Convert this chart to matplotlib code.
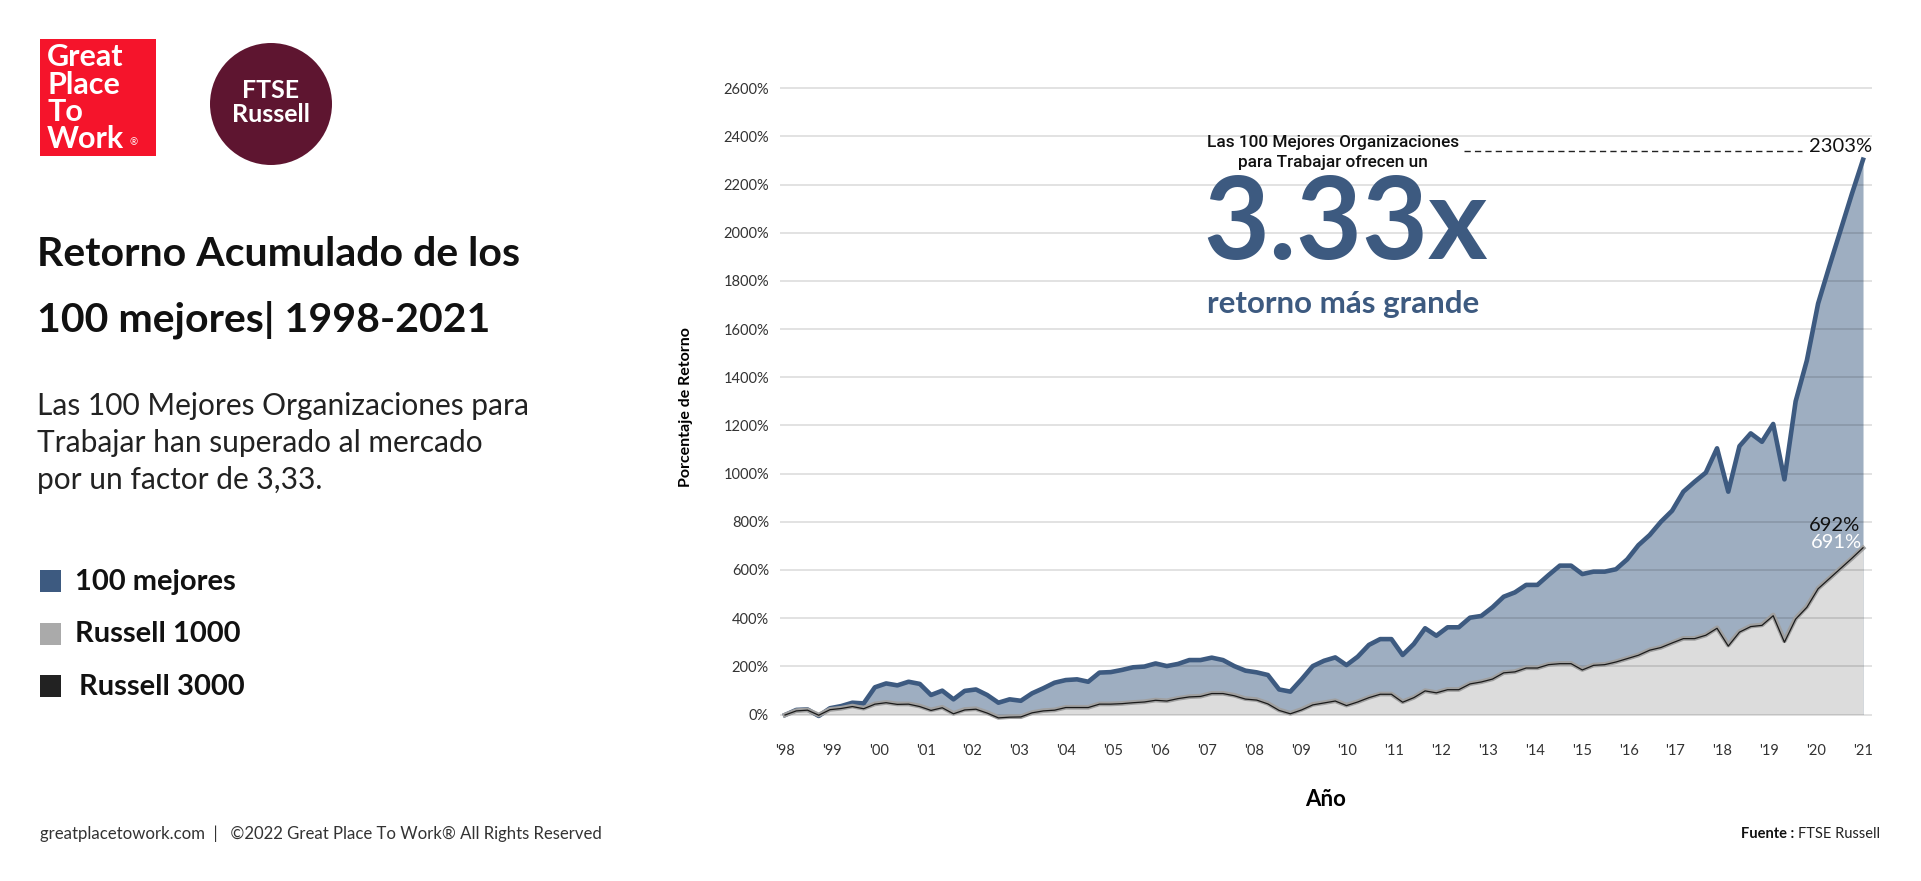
import numpy as np
import matplotlib
matplotlib.use('Agg')
import matplotlib.pyplot as plt
from matplotlib.patches import Rectangle, Ellipse

plt.rcParams['font.family'] = ['Lato', 'DejaVu Sans']

# tick labels (one per year)
years = ["'98", "'99", "'00", "'01", "'02", "'03", "'04", "'05", "'06", "'07", "'08", "'09",
         "'10", "'11", "'12", "'13", "'14", "'15", "'16", "'17", "'18", "'19", "'20", "'21"]

# cumulative return, %, quarterly
mejores = [-2, 19, 21, -6, 26, 35, 49, 46, 113, 129, 121, 136, 127, 81, 99, 63, 98, 104, 81, 49,
           63, 57, 88, 109, 132, 143, 146, 136, 174, 176, 185, 196, 199, 212, 201, 210, 226, 226, 236, 226,
           201, 182, 175, 164, 104, 95, 146, 201, 223, 237, 205, 240, 289, 313, 313, 247, 293, 358, 327, 362,
           362, 402, 409, 445, 489, 507, 538, 538, 579, 618, 618, 583, 593, 593, 603, 644, 703, 745, 800, 846,
           925, 966, 1004, 1105, 925, 1114, 1167, 1132, 1206, 976, 1300, 1470, 1706, 1860, 2010, 2160, 2303]
russell_1000 = [-2, 16, 19, -2, 21, 26, 35, 26, 44, 50, 44, 44, 35, 19, 30, 5, 21, 24, 8, -12,
                -9, -9, 8, 16, 19, 30, 30, 30, 44, 44, 46, 50, 53, 60, 57, 67, 74, 76, 88, 88,
                80, 66, 62, 46, 19, 5, 21, 42, 49, 57, 39, 53, 71, 85, 85, 53, 71, 99, 91, 104,
                104, 128, 136, 148, 174, 178, 194, 194, 208, 212, 212, 187, 205, 208, 219, 233, 247, 268, 279, 298,
                316, 316, 330, 360, 288, 344, 367, 372, 413, 306, 399, 448, 524, 565, 607, 648, 691]
russell_3000 = [-2, 15, 18, -3, 20, 25, 33, 24, 43, 49, 42, 43, 33, 17, 28, 3, 19, 22, 6, -14,
                -11, -10, 7, 15, 18, 29, 29, 29, 43, 43, 45, 49, 52, 59, 56, 66, 73, 75, 87, 87,
                78, 64, 60, 44, 17, 3, 19, 40, 48, 56, 37, 52, 70, 84, 84, 51, 70, 98, 90, 103,
                103, 127, 135, 147, 173, 177, 193, 193, 207, 211, 211, 185, 204, 207, 218, 232, 246, 267, 278, 297,
                315, 315, 329, 358, 284, 342, 365, 370, 410, 300, 396, 445, 522, 564, 606, 648, 692]

BLUE = '#3d5a80'
W, H = 1921, 881
fig = plt.figure(figsize=(W / 100, H / 100), dpi=100)


def fx(px):
    return px / W


def fy(py):
    return 1 - py / H


# ---- chart
ax = fig.add_axes([fx(780), fy(738.6), 1092 / W, 662.5 / H])
x = np.arange(len(mejores))
ax.fill_between(x, 0, mejores, color='#9eaec1', lw=0, zorder=1)
ax.fill_between(x, 0, russell_1000, color='#dcdcdc', lw=0, zorder=1.5)
ax.plot(x, mejores, color=BLUE, lw=3.3, zorder=3)
ax.plot(x, russell_1000, color='#a0a0a0', lw=3.4, zorder=3.1)
ax.plot(x, russell_3000, color='#1a1a1a', lw=0.9, zorder=3.2)

ax.set_xlim(-0.45, len(mejores) - 1 + 0.8)
ax.set_ylim(-100, 2650)
ax.set_yticks(range(0, 2601, 200))
ax.set_yticklabels([f'{v}%' for v in range(0, 2601, 200)])
ax.set_xticks(np.linspace(0, len(mejores) - 1, len(years)))
ax.set_xticklabels(years)
ax.set_axisbelow(False)
ax.yaxis.grid(True, color='black', alpha=0.15, lw=1.1)
for s in ax.spines.values():
    s.set_visible(False)
ax.tick_params(axis='both', length=0, labelsize=10.5, labelcolor='#333333')
ax.tick_params(axis='y', pad=8)
ax.tick_params(axis='x', pad=4)
ax.set_xlabel('Año', fontsize=16, fontweight='bold', labelpad=22)
ax.set_ylabel('Porcentaje de Retorno', fontsize=11.5, fontweight='bold', labelpad=22)

# end labels
ax.annotate(f'{mejores[-1]}%', xy=(x[-1], mejores[-1]), xytext=(9, 13), textcoords='offset pixels',
            ha='right', va='center', fontsize=14.5, color='#111111')
ax.annotate(f'{russell_3000[-1]}%', xy=(x[-1], russell_3000[-1]), xytext=(-3, 22), textcoords='offset pixels',
            ha='right', va='center', fontsize=14.5, color='#111111')
ax.annotate(f'{russell_1000[-1]}%', xy=(x[-1], russell_1000[-1]), xytext=(-1, 6), textcoords='offset pixels',
            ha='right', va='center', fontsize=14.5, color='white')
ax.plot([60.5, 90.6], [mejores[-1] + 36] * 2, color='#222222', lw=1.0, dashes=(4.5, 3), zorder=4)

# callout
fig.text(fx(1333), fy(143), 'Las 100 Mejores Organizaciones', ha='center', va='center',
         fontsize=12.4, family=['Roboto', 'DejaVu Sans'], fontweight='medium', color='#111111')
fig.text(fx(1333), fy(162), 'para Trabajar ofrecen un', ha='center', va='center',
         fontsize=12.4, family=['Roboto', 'DejaVu Sans'], fontweight='medium', color='#111111')
fig.text(fx(1203), fy(226), '3.33x', ha='left', va='center', fontsize=82, fontweight='bold', color=BLUE)
fig.text(fx(1207), fy(304), 'retorno más grande', ha='left', va='center', fontsize=22.5, fontweight='bold', color=BLUE)

# ---- left panel
fig.patches.append(Rectangle((fx(40), fy(156)), 116 / W, 117 / H, transform=fig.transFigure,
                             color='#f5142b', lw=0))
for i, word in enumerate(['Great', 'Place', 'To', 'Work']):
    fig.text(fx(47), fy(57 + 27.5 * i), word, ha='left', va='center', fontsize=22,
             fontweight='bold', color='white')
fig.text(fx(130), fy(143), '®', ha='left', va='center', fontsize=7, color='white')
fig.patches.append(Ellipse((fx(271), fy(104)), 122 / W, 122 / H, transform=fig.transFigure,
                           color='#5e1530', lw=0))
fig.text(fx(271), fy(90), 'FTSE', ha='center', va='center', fontsize=18, fontweight='bold', color='white')
fig.text(fx(271), fy(115), 'Russell', ha='center', va='center', fontsize=18, fontweight='bold', color='white')

fig.text(fx(37), fy(255), 'Retorno Acumulado de los', ha='left', va='center', fontsize=29.5,
         fontweight='bold', color='#111111')
fig.text(fx(37), fy(320), '100 mejores| 1998-2021', ha='left', va='center', fontsize=29.5,
         fontweight='bold', color='#111111')
for i, line in enumerate(['Las 100 Mejores Organizaciones para', 'Trabajar han superado al mercado',
                          'por un factor de 3,33.']):
    fig.text(fx(37), fy(406 + 37 * i), line, ha='left', va='center', fontsize=21.5, color='#222222')

legend_items = [('100 mejores', BLUE, 75), ('Russell 1000', '#aaaaaa', 75), ('Russell 3000', '#222222', 79)]
for i, (name, col, tx) in enumerate(legend_items):
    yc = 581 + 52.5 * i
    fig.patches.append(Rectangle((fx(40), fy(yc + 11)), 21 / W, 22 / H, transform=fig.transFigure,
                                 color=col, lw=0))
    fig.text(fx(tx), fy(yc + 1), name, ha='left', va='center', fontsize=21, fontweight='bold',
             color='#111111')

fig.text(fx(40), fy(834), 'greatplacetowork.com  |   ©2022 Great Place To Work® All Rights Reserved',
         ha='left', va='center', fontsize=12.1, color='#333333')
src = fig.text(fx(1880), fy(834), 'FTSE Russell', ha='right', va='center', fontsize=10.5, color='#222222')
fig.canvas.draw()
bb = src.get_window_extent()
fig.text(bb.x0 / W, fy(834), 'Fuente : ', ha='right', va='center', fontsize=10.5, fontweight='bold',
         color='#111111')

fig.savefig('out.png', dpi=100)
